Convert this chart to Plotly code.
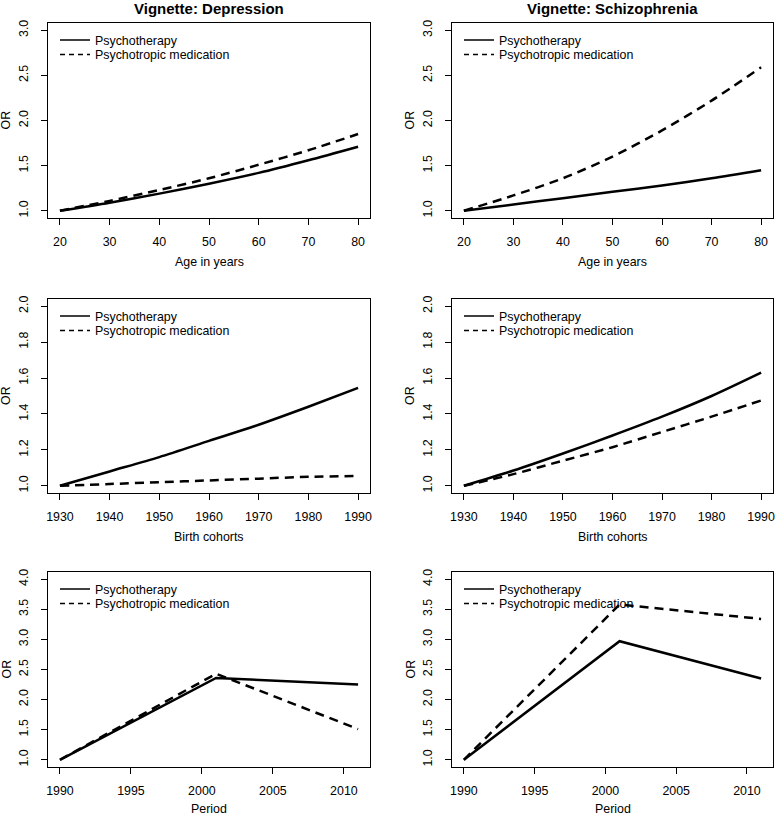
import plotly.graph_objects as go

# ---------------- data ----------------
age = [20, 30, 40, 50, 60, 70, 80]
dep_age_psychotherapy = [1.00, 1.09, 1.19, 1.30, 1.42, 1.56, 1.71]
dep_age_medication = [1.00, 1.11, 1.23, 1.36, 1.51, 1.67, 1.85]
sch_age_psychotherapy = [1.00, 1.07, 1.14, 1.21, 1.28, 1.36, 1.45]
sch_age_medication = [1.00, 1.17, 1.36, 1.60, 1.89, 2.22, 2.59]

cohort = [1930, 1940, 1950, 1960, 1970, 1980, 1990]
dep_coh_psychotherapy = [1.00, 1.08, 1.16, 1.25, 1.34, 1.44, 1.545]
dep_coh_medication = [1.00, 1.01, 1.02, 1.03, 1.04, 1.05, 1.055]
sch_coh_psychotherapy = [1.00, 1.085, 1.18, 1.28, 1.385, 1.50, 1.63]
sch_coh_medication = [1.00, 1.065, 1.14, 1.215, 1.30, 1.385, 1.475]

period = [1990, 2001, 2011]
dep_per_psychotherapy = [1.00, 2.36, 2.25]
dep_per_medication = [1.00, 2.43, 1.51]
sch_per_psychotherapy = [1.00, 2.97, 2.35]
sch_per_medication = [1.00, 3.58, 3.34]

titles = ["Vignette: Depression", "Vignette: Schizophrenia"]
x_titles = ["Age in years", "Birth cohorts", "Period"]
series_names = ["Psychotherapy", "Psychotropic medication"]

age_ticks = [20, 30, 40, 50, 60, 70, 80]
cohort_ticks = [1930, 1940, 1950, 1960, 1970, 1980, 1990]
period_ticks = [1990, 1995, 2000, 2005, 2010]
or_ticks_age = [1.0, 1.5, 2.0, 2.5, 3.0]
or_ticks_coh = [1.0, 1.2, 1.4, 1.6, 1.8, 2.0]
or_ticks_per = [1.0, 1.5, 2.0, 2.5, 3.0, 3.5, 4.0]

# ---------------- layout geometry ----------------
W, H = 777, 816
col_px = [(48, 370), (452, 773)]
row_px = [(23, 218), (299, 493), (572, 767)]
xtitle_shift = [-44, -44, -42]

FONT = "Liberation Sans, Arial, Helvetica, sans-serif"
FS = 12.4


def pad(lo, hi):
    d = (hi - lo) * 0.04
    return [lo - d, hi + d]


rows = [
    dict(x=age, xt=age_ticks, xr=pad(20, 80), yt=or_ticks_age, yr=pad(1, 3), shape="spline",
         data=[(dep_age_psychotherapy, dep_age_medication), (sch_age_psychotherapy, sch_age_medication)]),
    dict(x=cohort, xt=cohort_ticks, xr=pad(1930, 1990), yt=or_ticks_coh, yr=pad(1, 2), shape="spline",
         data=[(dep_coh_psychotherapy, dep_coh_medication), (sch_coh_psychotherapy, sch_coh_medication)]),
    dict(x=period, xt=period_ticks, xr=pad(1990, 2011), yt=or_ticks_per, yr=pad(1, 4), shape="linear",
         data=[(dep_per_psychotherapy, dep_per_medication), (sch_per_psychotherapy, sch_per_medication)]),
]

fig = go.Figure()
layout = dict(
    width=W, height=H, margin=dict(l=0, r=0, t=0, b=0),
    paper_bgcolor="white", plot_bgcolor="white",
    font=dict(family=FONT, size=FS, color="black"),
    showlegend=True,
)
annotations = []
styles = [dict(color="black", width=2.5, dash="solid"),
          dict(color="black", width=2.5, dash="9px,6px")]
legend_styles = [dict(color="black", width=1.5, dash="solid"),
                 dict(color="black", width=1.5, dash="5px,4px")]
legend_offsets = [2.5, 17.0]

idx = 0
leg_idx = 0
for r, row in enumerate(rows):
    for c in range(2):
        idx += 1
        sfx = "" if idx == 1 else str(idx)
        xa, ya = "x" + sfx, "y" + sfx
        x0, x1 = col_px[c]
        y0, y1 = row_px[r]
        for s, vals in enumerate(row["data"][c]):
            ls = dict(styles[s])
            ls["shape"] = row["shape"]
            if row["shape"] == "spline":
                ls["smoothing"] = 0.8
            fig.add_trace(go.Scatter(x=row["x"], y=vals, mode="lines", name=series_names[s],
                                     line=ls, xaxis=xa, yaxis=ya, showlegend=False,
                                     hoverinfo="skip"))
        for s in range(2):
            leg_idx += 1
            leg = "legend" if leg_idx == 1 else "legend%d" % leg_idx
            # legend key (thin line, like R's legend())
            fig.add_trace(go.Scatter(x=[None], y=[None], mode="lines", name=series_names[s],
                                     line=legend_styles[s], xaxis=xa, yaxis=ya, legend=leg,
                                     showlegend=True, hoverinfo="skip"))
            layout[leg] = dict(
                x=(x0 + 7) / W, y=1 - (y0 + legend_offsets[s]) / H,
                xanchor="left", yanchor="top",
                bgcolor="rgba(0,0,0,0)", borderwidth=0,
                font=dict(size=FS, family=FONT, color="black"),
                itemwidth=30, tracegroupgap=0,
            )
        layout["xaxis" + sfx] = dict(
            domain=[x0 / W, x1 / W], anchor=ya, range=row["xr"],
            tickvals=row["xt"], ticktext=[str(v) for v in row["xt"]],
            ticks="outside", ticklen=6, tickwidth=1, tickcolor="black",
            showline=True, linecolor="black", linewidth=1, mirror=True,
            showgrid=False, zeroline=False, automargin=False,
            tickfont=dict(size=FS, family=FONT, color="black"),
            ticklabelstandoff=6, fixedrange=True,
        )
        layout["yaxis" + sfx] = dict(
            domain=[1 - y1 / H, 1 - y0 / H], anchor=xa, range=row["yr"],
            tickvals=row["yt"], ticktext=["%.1f" % v for v in row["yt"]],
            ticks="outside", ticklen=6, tickwidth=1, tickcolor="black",
            showline=True, linecolor="black", linewidth=1, mirror=True,
            showgrid=False, zeroline=False, automargin=False,
            tickangle=-90,
            tickfont=dict(size=FS, family=FONT, color="black"),
            ticklabelstandoff=8, fixedrange=True,
        )
        annotations.append(dict(text=x_titles[r], xref=xa + " domain", yref=ya + " domain",
                                x=0.5, y=0, yshift=xtitle_shift[r], showarrow=False,
                                xanchor="center", yanchor="middle",
                                font=dict(size=FS, family=FONT, color="black")))
        annotations.append(dict(text="OR", xref=xa + " domain", yref=ya + " domain",
                                x=0, y=0.5, xshift=-42, showarrow=False, textangle=-90,
                                xanchor="center", yanchor="middle",
                                font=dict(size=FS, family=FONT, color="black")))
        if r == 0:
            annotations.append(dict(text="<b>%s</b>" % titles[c], xref=xa + " domain", yref=ya + " domain",
                                    x=0.5, y=1, yshift=15, showarrow=False,
                                    xanchor="center", yanchor="middle",
                                    font=dict(size=15, family=FONT, color="black")))

layout["annotations"] = annotations
fig.update_layout(**layout)
fig.write_html("out.html", config={"displayModeBar": False})

# remove the browser's default page margin so the figure fills the window exactly
with open("out.html", "r", encoding="utf-8") as f:
    html = f.read()
html = html.replace("<head>", "<head><style>html,body{margin:0;padding:0;overflow:hidden;}</style>", 1)
with open("out.html", "w", encoding="utf-8") as f:
    f.write(html)
